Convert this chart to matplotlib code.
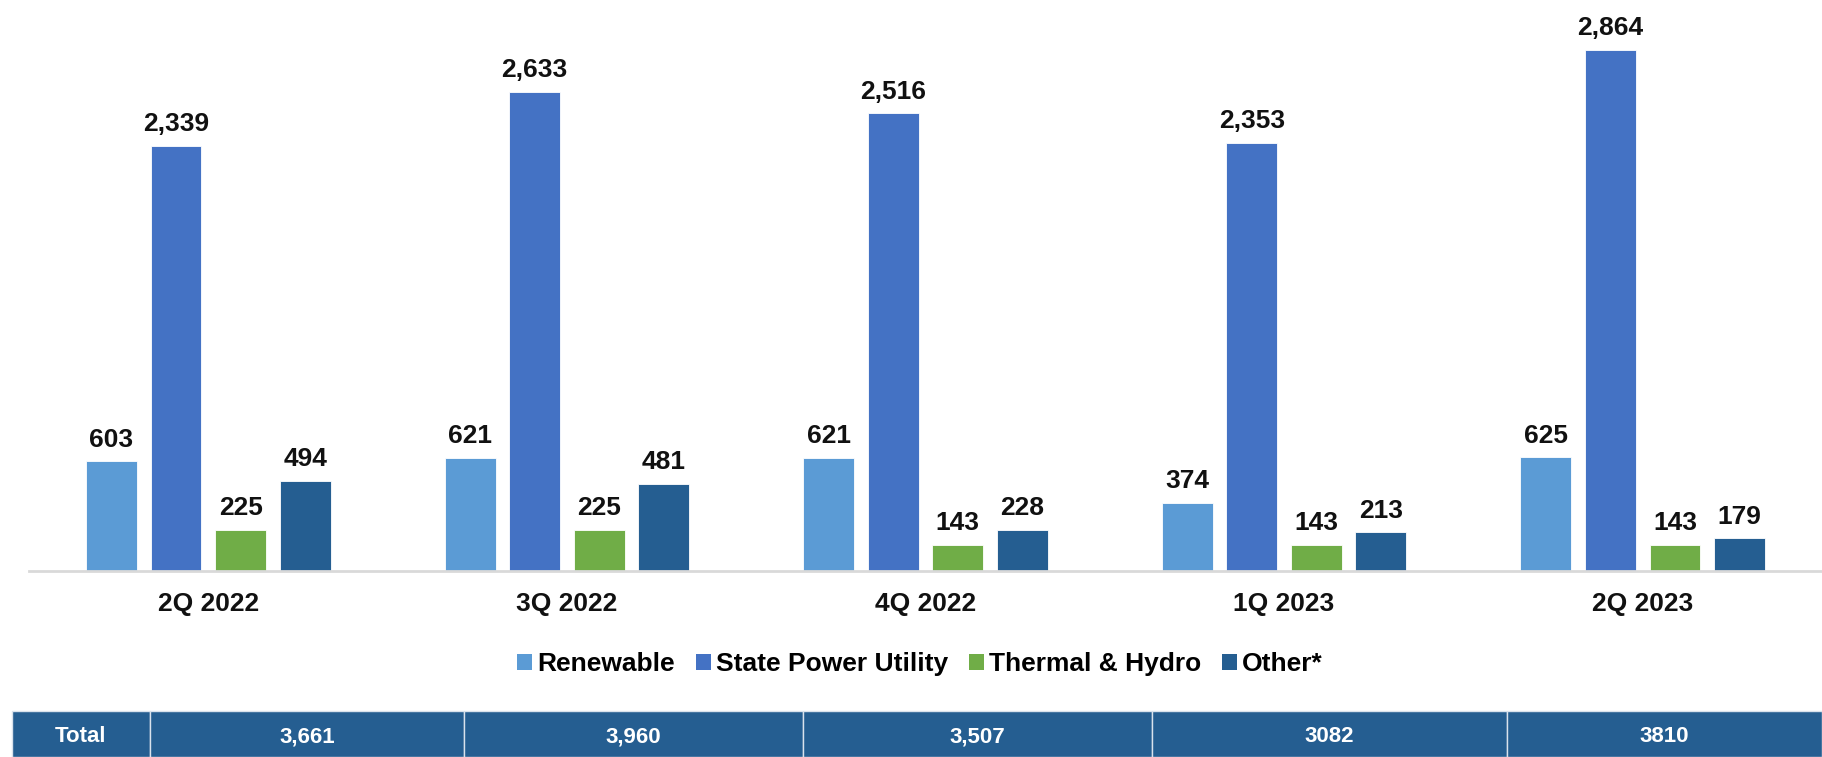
import matplotlib
matplotlib.use('Agg')
import numpy as np
import matplotlib.pyplot as plt
from matplotlib.patches import Patch

plt.rcParams['font.family'] = ['Liberation Sans', 'DejaVu Sans']
plt.rcParams['font.weight'] = 'bold'

# data
quarters = ['2Q 2022', '3Q 2022', '4Q 2022', '1Q 2023', '2Q 2023']
series_names = ['Renewable', 'State Power Utility', 'Thermal & Hydro', 'Other*']
renewable = [603, 621, 621, 374, 625]
state_power = [2339, 2633, 2516, 2353, 2864]
thermal_hydro = [225, 225, 143, 143, 143]
other = [494, 481, 228, 213, 179]
totals = ['3,661', '3,960', '3,507', '3082', '3810']

colors = ['#5B9BD5', '#4472C4', '#70AD47', '#255E91']
series = [renewable, state_power, thermal_hydro, other]

W, H = 1822, 757
fig = plt.figure(figsize=(W / 100, H / 100), dpi=100)

# main bar axes
ax = fig.add_axes([29 / W, 1 - 571 / H, 1 - 29 / W, 571 / H])
x = np.arange(len(quarters))
bar_w = 0.142
offsets = [-0.27, -0.09, 0.09, 0.27]
for vals, col, off, name in zip(series, colors, offsets, series_names):
    bars = ax.bar(x + off, vals, width=bar_w, color=col, label=name,
                  edgecolor='white', linewidth=0.6)
    for b, v in zip(bars, vals):
        ax.annotate(f'{v:,}', (b.get_x() + b.get_width() / 2, v),
                    xytext=(0, 7), textcoords='offset points',
                    ha='center', va='bottom', fontsize=19,
                    fontweight='bold', color='#111111')

ax.set_xlim(-0.5, len(quarters) - 0.5)
ax.set_ylim(0, 3140)
ax.set_xticks(x)
ax.set_xticklabels(quarters, fontsize=19, fontweight='bold', color='#111111')
ax.tick_params(axis='x', length=0, pad=15)
ax.set_yticks([])
for s in ['top', 'right', 'left']:
    ax.spines[s].set_visible(False)
ax.spines['bottom'].set_color('#D9D9D9')
ax.spines['bottom'].set_linewidth(2)

# legend
handles = [Patch(facecolor=c, edgecolor='none') for c in colors]
fig.legend(handles, series_names, loc='center', bbox_to_anchor=(0.505, 1 - 664 / H),
           ncol=4, frameon=False, fontsize=19, handlelength=0.55, handleheight=0.55,
           handletextpad=0.2, columnspacing=0.8)

# totals table
tax = fig.add_axes([12 / W, 0, 1 - 12 / W, 46 / H])
tax.axis('off')
col_px = [138, 314, 339, 349, 355, 315]
col_w = [c / sum(col_px) for c in col_px]
tbl = tax.table(cellText=[['Total'] + totals], colWidths=col_w,
                cellLoc='center', bbox=[0, 0, 1, 1])
tbl.auto_set_font_size(False)
for (r, c), cell in tbl.get_celld().items():
    cell.set_facecolor('#255E91')
    cell.set_edgecolor('#D9E2EC')
    cell.set_linewidth(1)
    cell.get_text().set_color('white')
    cell.get_text().set_fontsize(16)
    cell.get_text().set_fontweight('bold')
    cell.get_text().set_va('center_baseline')

fig.savefig('out.png', dpi=100)
